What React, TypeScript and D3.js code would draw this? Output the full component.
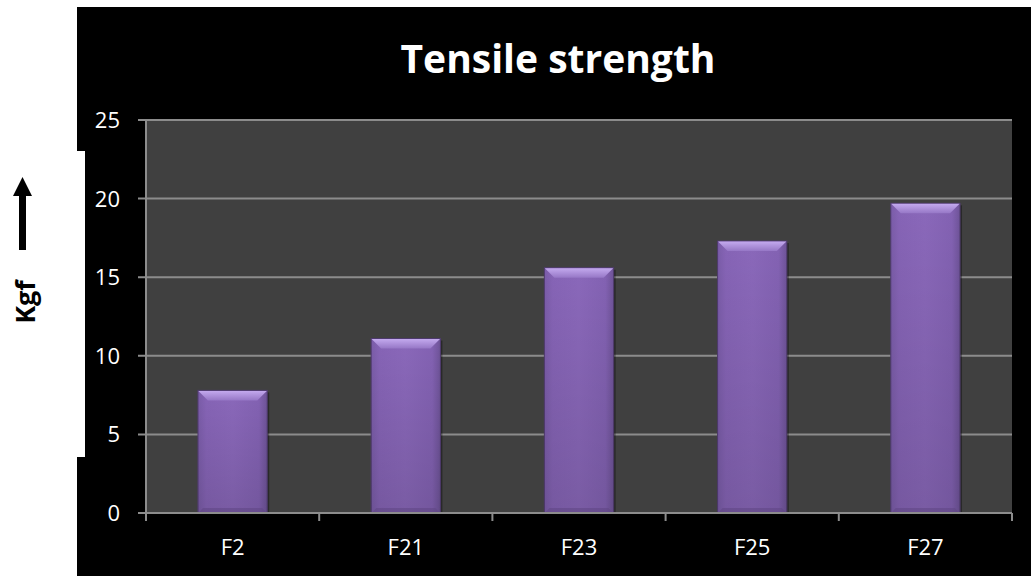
import { useEffect, useRef } from "react";
import * as d3 from "d3";

const categories = ["F2", "F21", "F23", "F25", "F27"];
const values = [7.8, 11.1, 15.6, 17.3, 19.7];
const yTicks = [0, 5, 10, 15, 20, 25];

const W = 1031;
const H = 576;
const FONT = "'Open Sans', 'Noto Sans', sans-serif";

export default function App() {
  const svgRef = useRef<SVGSVGElement>(null);

  useEffect(() => {
    if (!svgRef.current) return;
    const svg = d3.select(svgRef.current);
    svg.selectAll("*").remove();

    const plot = { left: 146, right: 1012, top: 120, bottom: 513 };

    // defs: bar gradients
    const defs = svg.append("defs");
    const body = defs
      .append("linearGradient")
      .attr("id", "barBody")
      .attr("x1", 0).attr("x2", 1).attr("y1", 0).attr("y2", 0);
    body.append("stop").attr("offset", 0).attr("stop-color", "#7a5ca8");
    body.append("stop").attr("offset", 0.12).attr("stop-color", "#8664b6");
    body.append("stop").attr("offset", 0.5).attr("stop-color", "#8a68ba");
    body.append("stop").attr("offset", 0.88).attr("stop-color", "#8362b3");
    body.append("stop").attr("offset", 1).attr("stop-color", "#6e5398");

    const bodyV = defs
      .append("linearGradient")
      .attr("id", "barShade")
      .attr("x1", 0).attr("x2", 0).attr("y1", 0).attr("y2", 1);
    bodyV.append("stop").attr("offset", 0).attr("stop-color", "#000").attr("stop-opacity", 0);
    bodyV.append("stop").attr("offset", 1).attr("stop-color", "#000").attr("stop-opacity", 0.12);

    const topG = defs
      .append("linearGradient")
      .attr("id", "barTop")
      .attr("x1", 0).attr("x2", 0).attr("y1", 0).attr("y2", 1);
    topG.append("stop").attr("offset", 0).attr("stop-color", "#c3a9ee");
    topG.append("stop").attr("offset", 1).attr("stop-color", "#9677c6");

    // background shape
    svg
      .append("rect")
      .attr("width", W)
      .attr("height", H)
      .attr("fill", "#ffffff");
    svg
      .append("path")
      .attr(
        "d",
        "M77,7 L1031,7 L1031,576 L77,576 L77,457 L85,457 L85,151 L77,151 Z"
      )
      .attr("fill", "#000000");

    const x = d3
      .scaleBand<string>()
      .domain(categories)
      .range([plot.left, plot.right])
      .padding(0);
    const y = d3.scaleLinear().domain([0, 25]).range([plot.bottom, plot.top]);

    // plot area
    svg
      .append("rect")
      .attr("x", plot.left)
      .attr("y", plot.top)
      .attr("width", plot.right - plot.left)
      .attr("height", plot.bottom - plot.top)
      .attr("fill", "#404040");

    // gridlines
    svg
      .append("g")
      .selectAll("line")
      .data(yTicks)
      .join("line")
      .attr("x1", plot.left - 8)
      .attr("x2", plot.right)
      .attr("y1", (d) => y(d))
      .attr("y2", (d) => y(d))
      .attr("stroke", "#8c8c8c")
      .attr("stroke-width", 2);

    // bars
    const bw = x.bandwidth() * 0.4;
    const bars = svg
      .append("g")
      .selectAll("g")
      .data(categories.map((c, i) => ({ c, v: values[i] })))
      .join("g")
      .attr("transform", (d) => {
        const cx = (x(d.c) as number) + x.bandwidth() / 2;
        return `translate(${cx - bw / 2},${y(d.v)})`;
      });

    // shadow
    bars
      .append("rect")
      .attr("x", 2)
      .attr("y", 2)
      .attr("width", bw)
      .attr("height", (d) => plot.bottom - y(d.v) - 2)
      .attr("fill", "#000")
      .attr("opacity", 0.35);

    bars
      .append("rect")
      .attr("width", bw)
      .attr("height", (d) => plot.bottom - y(d.v))
      .attr("fill", "url(#barBody)")
      .attr("stroke", "#4f3b6e")
      .attr("stroke-width", 1);
    bars
      .append("rect")
      .attr("width", bw)
      .attr("height", (d) => plot.bottom - y(d.v))
      .attr("fill", "url(#barShade)");

    // top bevel
    const bev = 10;
    bars
      .append("path")
      .attr(
        "d",
        `M0.5,0.5 L${bw - 0.5},0.5 L${bw - bev},${bev} L${bev},${bev} Z`
      )
      .attr("fill", "url(#barTop)");
    // bottom bevel
    bars
      .append("path")
      .attr("d", (d) => {
        const h = plot.bottom - y(d.v);
        return `M1,${h - 0.5} L${bw - 1},${h - 0.5} L${bw - 5},${h - 5} L5,${h - 5} Z`;
      })
      .attr("fill", "#5e4584")
      .attr("opacity", 0.55);

    // y axis line
    svg
      .append("line")
      .attr("x1", plot.left)
      .attr("x2", plot.left)
      .attr("y1", plot.top)
      .attr("y2", plot.bottom + 8)
      .attr("stroke", "#8c8c8c")
      .attr("stroke-width", 2);

    // x axis line
    svg
      .append("line")
      .attr("x1", plot.left - 8)
      .attr("x2", plot.right)
      .attr("y1", plot.bottom)
      .attr("y2", plot.bottom)
      .attr("stroke", "#8c8c8c")
      .attr("stroke-width", 2);

    // x ticks at category boundaries
    const bounds = categories.map((c) => x(c) as number).concat([plot.right]);
    svg
      .append("g")
      .selectAll("line")
      .data(bounds)
      .join("line")
      .attr("x1", (d) => d)
      .attr("x2", (d) => d)
      .attr("y1", plot.bottom)
      .attr("y2", plot.bottom + 8)
      .attr("stroke", "#8c8c8c")
      .attr("stroke-width", 2);

    // y labels
    svg
      .append("g")
      .selectAll("text")
      .data(yTicks)
      .join("text")
      .attr("x", 120)
      .attr("y", (d) => y(d) + 8)
      .attr("text-anchor", "end")
      .attr("font-family", FONT)
      .attr("font-size", 22)
      .attr("fill", "#ffffff")
      .text((d) => String(d));

    // x labels
    svg
      .append("g")
      .selectAll("text")
      .data(categories)
      .join("text")
      .attr("x", (d) => (x(d) as number) + x.bandwidth() / 2)
      .attr("y", 555)
      .attr("text-anchor", "middle")
      .attr("font-family", FONT)
      .attr("font-size", 22)
      .attr("fill", "#ffffff")
      .text((d) => d);

    // title
    svg
      .append("text")
      .attr("x", 558)
      .attr("y", 73)
      .attr("text-anchor", "middle")
      .attr("font-family", FONT)
      .attr("font-weight", "bold")
      .attr("font-size", 39)
      .attr("fill", "#ffffff")
      .text("Tensile strength");

    // axis title + arrow
    svg
      .append("text")
      .attr("transform", "translate(35,302) rotate(-90)")
      .attr("text-anchor", "middle")
      .attr("font-family", FONT)
      .attr("font-weight", "bold")
      .attr("font-size", 27)
      .attr("fill", "#000000")
      .text("Kgf");

    svg
      .append("rect")
      .attr("x", 19)
      .attr("y", 194)
      .attr("width", 7)
      .attr("height", 56)
      .attr("fill", "#000");
    svg
      .append("path")
      .attr("d", "M22.5,177 L32,196 L13,196 Z")
      .attr("fill", "#000");
  }, []);

  return (
    <svg
      ref={svgRef}
      width={W}
      height={H}
      style={{ position: "fixed", left: 0, top: 0, display: "block" }}
    />
  );
}
